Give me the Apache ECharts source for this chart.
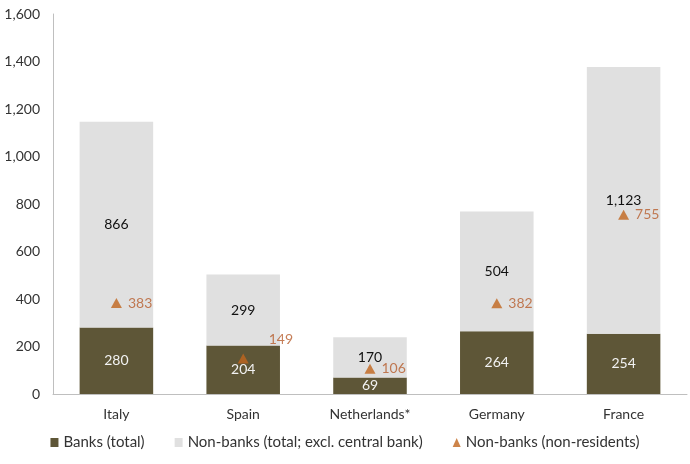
<!DOCTYPE html>
<html>
<head>
<meta charset="utf-8">
<script src="https://cdn.jsdelivr.net/npm/echarts@6/dist/echarts.min.js"></script>
<style>
  html, body { margin: 0; padding: 0; background: #fff; }
  #chart { width: 690px; height: 464px; }
</style>
</head>
<body>
<div id="chart"></div>
<script>
const countries = ['Italy', 'Spain', 'Netherlands*', 'Germany', 'France'];
const banksTotal = [280, 204, 69, 264, 254];
const nonBanksTotal = [866, 299, 170, 504, 1123];
const nonBanksNonResidents = [383, 149, 106, 382, 755];
const yTicks = [0, 200, 400, 600, 800, 1000, 1200, 1400, 1600];

const font = 'Lato, "Open Sans", sans-serif';
const fmt = v => Number(v).toLocaleString('en-US');

const chart = echarts.init(document.getElementById('chart'));

const option = {
  animation: false,
  textStyle: { fontFamily: font },
  grid: { left: 53, right: 3, top: 14, bottom: 70, containLabel: false },
  legend: {
    bottom: 9,
    left: 'center',
    itemWidth: 8,
    itemHeight: 9,
    itemGap: 30,
    textStyle: { fontSize: 15, color: '#333', fontFamily: font },
    data: [
      { name: 'Banks (total)', icon: 'rect' },
      { name: 'Non-banks (total; excl. central bank)', icon: 'rect' },
      { name: 'Non-banks (non-residents)', icon: 'triangle' }
    ]
  },
  xAxis: {
    type: 'category',
    data: countries,
    axisLine: { lineStyle: { color: '#bfbfbf', width: 1 } },
    axisTick: { show: false },
    axisLabel: { color: '#333', fontSize: 14, margin: 13 }
  },
  yAxis: {
    type: 'value',
    min: yTicks[0],
    max: yTicks[yTicks.length - 1],
    interval: 200,
    axisLine: { show: true, lineStyle: { color: '#bfbfbf', width: 1 } },
    axisTick: { show: false },
    splitLine: { show: false },
    axisLabel: { color: '#333', fontSize: 14, margin: 13, formatter: v => fmt(v) }
  },
  series: [
    {
      name: 'Banks (total)',
      type: 'bar',
      stack: 'total',
      barCategoryGap: '42%',
      data: banksTotal,
      itemStyle: { color: '#5e5637' },
      label: { show: true, position: 'inside', color: '#f2f2f2', fontSize: 14, formatter: p => fmt(p.value) }
    },
    {
      name: 'Non-banks (total; excl. central bank)',
      type: 'bar',
      stack: 'total',
      data: nonBanksTotal,
      itemStyle: { color: '#e0e0e0' },
      label: { show: true, position: 'inside', color: '#111', fontSize: 14, formatter: p => fmt(p.value) }
    },
    {
      name: 'Non-banks (non-residents)',
      type: 'scatter',
      symbol: 'triangle',
      symbolSize: [11, 10],
      z: 5,
      data: nonBanksNonResidents.map((v, i) => i === 1
        ? { value: v, label: { position: 'right', offset: [14, -19] } }
        : v),
      itemStyle: { color: '#c0651d' },
      label: { show: true, position: 'right', distance: 6, color: '#b65c2c', fontSize: 14, formatter: p => fmt(p.value) }
    }
  ]
};

chart.setOption(option);
</script>
</body>
</html>
